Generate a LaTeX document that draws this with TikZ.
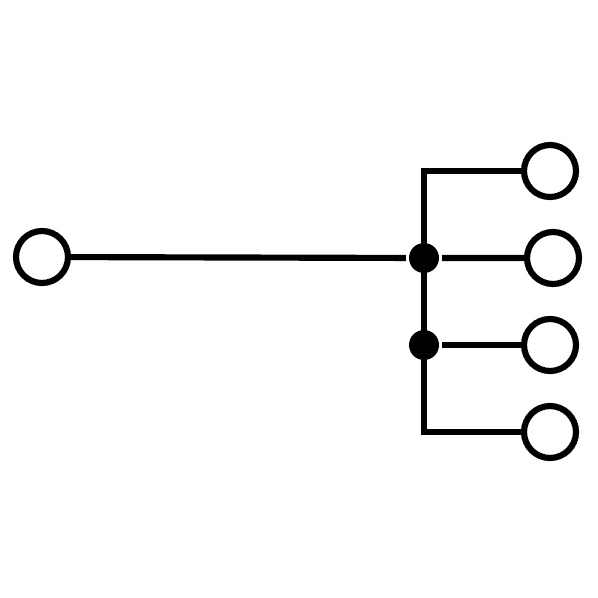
\documentclass[tikz,border=0pt]{standalone}
\usepackage{tikz}

\begin{document}
\begin{tikzpicture}[x=0.02cm,y=-0.02cm,line width=3.5pt,
  terminal/.style={circle,draw,fill=white,inner sep=0pt,minimum size=1.04cm},
  junction/.style={circle,fill,inner sep=0pt,minimum size=0.6cm}]

\useasboundingbox (0,0) rectangle (598,598);

\node[terminal] (in) at (42,257) {};
\node[terminal] (o1) at (550,171) {};
\node[terminal] (o2) at (553,258) {};
\node[terminal] (o3) at (550,345) {};
\node[terminal] (o4) at (550,432) {};

\coordinate (c1) at (424,171);
\coordinate (c4) at (424,432);
\node[junction] (j1) at (424,258) {};
\node[junction] (j2) at (424,345) {};

\draw (o1) -- (c1) -- (c4) -- (o4);
\draw (in) -- (j1) -- (o2);
\draw (j2) -- (o3);
\end{tikzpicture}
\end{document}
